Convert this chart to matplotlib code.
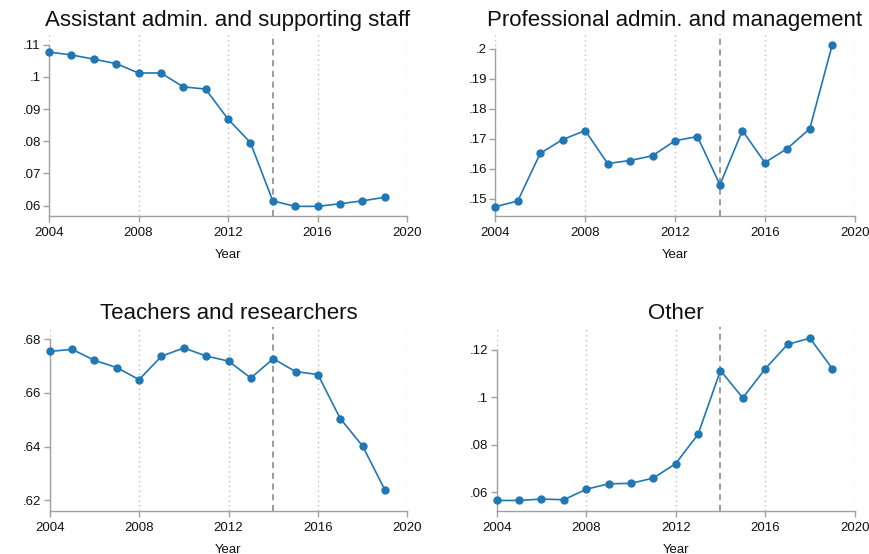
import matplotlib
matplotlib.use("Agg")
import matplotlib.pyplot as plt

plt.rcParams['font.family'] = ['Liberation Sans', 'DejaVu Sans']

years = list(range(2004, 2020))

assistant = [0.1077, 0.1068, 0.1055, 0.1041, 0.1012, 0.1012, 0.0969, 0.0962,
             0.0869, 0.0796, 0.0615, 0.0598, 0.0598, 0.0606, 0.0615, 0.0626]
professional = [0.1474, 0.1493, 0.1652, 0.1698, 0.1728, 0.1618, 0.1628, 0.1644,
                0.1694, 0.1708, 0.1547, 0.1728, 0.1621, 0.1668, 0.1734, 0.2014]
teachers = [0.6754, 0.6762, 0.6721, 0.6694, 0.6649, 0.6736, 0.6767, 0.6737,
            0.6718, 0.6655, 0.6727, 0.6679, 0.6668, 0.6504, 0.6402, 0.6238]
other = [0.0566, 0.0566, 0.0572, 0.0569, 0.0613, 0.0636, 0.0638, 0.0660,
         0.0721, 0.0844, 0.1112, 0.0997, 0.1119, 0.1222, 0.1248, 0.1120]

titles = ["Assistant admin. and supporting staff", "Professional admin. and management",
          "Teachers and researchers", "Other"]
series = [assistant, professional, teachers, other]

xticks = [2004, 2008, 2012, 2016, 2020]
yticks_list = [
    [0.06, 0.07, 0.08, 0.09, 0.10, 0.11],
    [0.15, 0.16, 0.17, 0.18, 0.19, 0.20],
    [0.62, 0.64, 0.66, 0.68],
    [0.06, 0.08, 0.10, 0.12],
]
ytick_labels = [
    [".06", ".07", ".08", ".09", ".1", ".11"],
    [".15", ".16", ".17", ".18", ".19", ".2"],
    [".62", ".64", ".66", ".68"],
    [".06", ".08", ".1", ".12"],
]
ylims = [(0.0569, 0.1133), (0.1444, 0.2050), (0.6161, 0.6845), (0.0523, 0.1295)]
break_year = 2014

W, H = 870, 554
# axes pixel boxes: left, right, top, bottom
boxes = [(49, 407, 34, 215.7), (495.3, 854.7, 34, 215.7),
         (49.7, 407.3, 327, 510.7), (496.7, 854.7, 327, 510.7)]

fig = plt.figure(figsize=(8.7, 5.54), dpi=100)
blue = "#1f77b4"
gray = "#a0a0a0"

for i in range(4):
    l, r, t, b = boxes[i]
    ax = fig.add_axes([l / W, (H - b) / H, (r - l) / W, (b - t) / H])
    ax.set_xlim(2004, 2020)
    ax.set_ylim(*ylims[i])
    for xt in xticks:
        ax.axvline(xt, color="#bdbdbd", lw=1.0, ls=(0, (1, 2.5)), zorder=0)
    ax.axvline(break_year, color="#808080", lw=1.1, ls=(0, (4, 3)), zorder=1)
    ax.plot(years, series[i], color=blue, lw=1.2, marker="o", ms=5,
            clip_on=False, zorder=3)
    ax.set_xticks(xticks)
    ax.set_xticklabels([str(x) for x in xticks])
    ax.set_yticks(yticks_list[i])
    ax.set_yticklabels(ytick_labels[i])
    for s in ["top", "right"]:
        ax.spines[s].set_visible(False)
    for s in ["left", "bottom"]:
        ax.spines[s].set_color(gray)
        ax.spines[s].set_linewidth(1.0)
    ax.spines["left"].set_bounds(ylims[i][0], yticks_list[i][-1])
    ax.tick_params(axis="both", colors=gray, labelcolor="#111111",
                   labelsize=9.5, length=4, width=1.0)
    ax.tick_params(axis="x", pad=4)
    ax.tick_params(axis="y", pad=2)
    ax.set_xlabel("Year", fontsize=9.5, color="#111111", labelpad=7)
    ax.set_title(titles[i], fontsize=16, color="#111111", pad=6)
    ax.patch.set_alpha(0)

fig.savefig("out.png", dpi=100, facecolor="white")
